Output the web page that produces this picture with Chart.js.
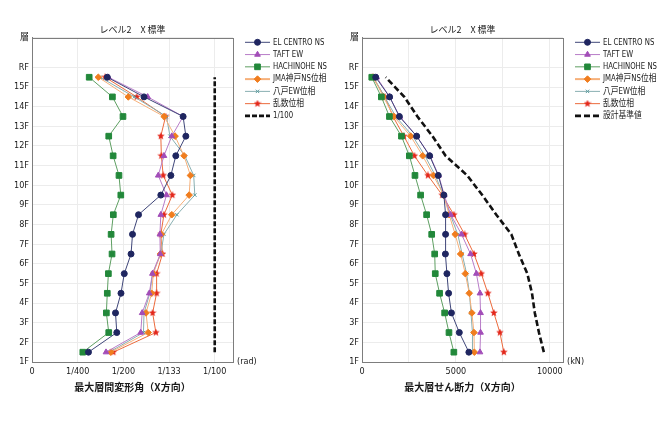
<!DOCTYPE html>
<html>
<head>
<meta charset="utf-8">
<script src="https://cdn.jsdelivr.net/npm/chart.js@4.4.0/dist/chart.umd.min.js"></script>
<style>
  html, body { margin: 0; padding: 0; background: #fff; overflow: hidden; }
  #wrap { position: relative; width: 659px; height: 434px; }
  .panel { position: absolute; top: 0; width: 330px; height: 434px; }
</style>
</head>
<body>
<div id="wrap">
  <div class="panel" style="left:0"><canvas id="driftChart" width="330" height="434"></canvas></div>
  <div class="panel" style="left:330px"><canvas id="shearChart" width="330" height="434"></canvas></div>
</div>
<script>
// 軸ラベル (1F = 0, RF = 15, 上端に「層」)
const floorLabels = ["1F", "2F", "3F", "4F", "5F", "6F", "7F", "8F", "9F", "10F", "11F", "12F", "13F", "14F", "15F", "RF"];
const axisTopLabel = "層";
const stories = ["1F", "2F", "3F", "4F", "5F", "6F", "7F", "8F", "9F", "10F", "11F", "12F", "13F", "14F", "15F"];

const seriesNames = ["EL CENTRO NS", "TAFT EW", "HACHINOHE NS", "JMA神戸NS位相", "八戸EW位相", "乱数位相"];

// 最大層間変形角 (rad)  1F → 15F
const elCentroDrift    = [0.00309, 0.00464, 0.00457, 0.00487, 0.00505, 0.00542, 0.00550, 0.00583, 0.00705, 0.00760, 0.00787, 0.00842, 0.00827, 0.00613, 0.00412];
const taftDrift        = [0.00405, 0.00595, 0.00603, 0.00642, 0.00659, 0.00702, 0.00700, 0.00705, 0.00736, 0.00691, 0.00722, 0.00765, 0.00827, 0.00633, 0.00418];
const hachinoheDrift   = [0.00278, 0.00420, 0.00407, 0.00412, 0.00418, 0.00438, 0.00433, 0.00445, 0.00486, 0.00476, 0.00444, 0.00420, 0.00498, 0.00440, 0.00313];
const kobeDrift        = [0.00431, 0.00636, 0.00624, 0.00655, 0.00664, 0.00703, 0.00708, 0.00765, 0.00860, 0.00867, 0.00832, 0.00783, 0.00723, 0.00527, 0.00363];
const hachinoheEwDrift = [0.00422, 0.00610, 0.00613, 0.00645, 0.00660, 0.00705, 0.00722, 0.00793, 0.00891, 0.00885, 0.00836, 0.00755, 0.00736, 0.00560, 0.00373];
const randomDrift      = [0.00445, 0.00678, 0.00660, 0.00682, 0.00682, 0.00714, 0.00705, 0.00722, 0.00768, 0.00718, 0.00708, 0.00705, 0.00731, 0.00573, 0.00400];
const driftLimit       = [0.01, 0.01, 0.01, 0.01, 0.01, 0.01, 0.01, 0.01, 0.01, 0.01, 0.01, 0.01, 0.01, 0.01, 0.01];
const driftTickValues = [0, 0.0025, 0.005, 0.0075, 0.01];
const driftTickLabels = ["0", "1/400", "1/200", "1/133", "1/100"];

// 最大層せん断力 (kN)  1F → 15F
const elCentroShear    = [5690, 5180, 4760, 4610, 4520, 4440, 4450, 4450, 4360, 4060, 3600, 2910, 1990, 1470, 730];
const taftShear        = [6280, 6310, 6310, 6280, 6090, 5780, 5300, 4720, 4380, 4080, 3620, 2910, 2010, 1470, 780];
const hachinoheShear   = [4890, 4630, 4400, 4130, 3900, 3870, 3710, 3440, 3120, 2820, 2520, 2100, 1460, 1030, 520];
const kobeShear        = [5980, 5960, 5850, 5710, 5500, 5250, 4960, 4640, 4350, 3800, 3230, 2590, 1700, 1140, 610];
const hachinoheEwShear = [5900, 5880, 5800, 5720, 5570, 5330, 5100, 4700, 4330, 3900, 3350, 2700, 1800, 1200, 620];
const randomShear      = [7550, 7340, 7020, 6700, 6350, 5960, 5460, 4890, 4270, 3510, 2790, 2230, 1650, 1220, 570];
const designShear      = [9680, 9420, 9200, 9050, 8800, 8350, 7950, 7150, 6400, 5600, 4450, 3750, 2950, 2250, 1260];
const shearTickValues = [0, 2500, 5000, 7500, 10000];
const shearTickLabels = ["0", "", "5000", "", "10000"];

const tickFont = { family: "'Liberation Sans Narrow', 'DejaVu Sans Condensed', 'Noto Sans CJK JP', sans-serif", size: 9 };
const jpFont = "'Noto Sans CJK JP', sans-serif";
const textColor = "#1a1a1a";
const gridColor = "#ececec";

// 赤い星マーカー
function makeStar(size, color) {
  const c = document.createElement("canvas");
  c.width = size; c.height = size;
  const g = c.getContext("2d");
  const cx = size / 2, cy = size / 2, ro = size / 2, ri = size / 4.6;
  g.beginPath();
  for (let i = 0; i < 10; i++) {
    const r = i % 2 ? ri : ro;
    const a = -Math.PI / 2 + i * Math.PI / 5;
    g.lineTo(cx + r * Math.cos(a), cy + r * Math.sin(a));
  }
  g.closePath();
  g.fillStyle = color;
  g.fill();
  return c;
}
const starMark = makeStar(8, "#e3271b");

// 系列スタイル
const styles = [
  { line: "#3f4679", mark: "#1f2660", pointStyle: "circle", radius: 3 },
  { line: "#b87cc8", mark: "#a24db8", pointStyle: "triangle", radius: 3.3 },
  { line: "#5e9f62", mark: "#22883a", pointStyle: "rect", radius: 4 },
  { line: "#f6b07a", mark: "#f07d1e", pointStyle: "rectRot", radius: 3.3 },
  { line: "#88afb1", mark: "#5c9c9f", pointStyle: "crossRot", radius: 2.4 },
  { line: "#ec6a3c", mark: "#e3271b", pointStyle: starMark, radius: 4 }
];

function points(values) {
  return values.map((v, i) => ({ x: v, y: stories.indexOf(stories[i]) + 0.5 }));
}

function buildDatasets(seriesValues, refValues, refLabel, dash) {
  const ds = seriesValues.map((vals, i) => {
    const s = styles[i];
    return {
      label: seriesNames[i],
      data: points(vals),
      showLine: true,
      borderColor: s.line,
      borderWidth: 1,
      pointStyle: s.pointStyle,
      pointRadius: s.radius,
      pointBackgroundColor: s.mark,
      pointBorderColor: s.mark,
      pointBorderWidth: 1
    };
  });
  ds.push({
    label: refLabel,
    data: points(refValues),
    showLine: true,
    borderColor: "#111",
    borderWidth: 2.6,
    borderDash: dash,
    pointRadius: 0
  });
  return ds;
}

const panelDecor = {
  id: "panelDecor",
  beforeDatasetsDraw(chart) {
    const { ctx, chartArea: a } = chart;
    ctx.save();
    ctx.strokeStyle = "#7d7d7d";
    ctx.lineWidth = 1;
    ctx.strokeRect(Math.round(a.left) + 0.5, Math.round(a.top) + 0.5, Math.round(a.right - a.left), Math.round(a.bottom - a.top));
    ctx.restore();
  },
  afterDraw(chart, args, opts) {
    const { ctx, chartArea: a } = chart;
    ctx.save();
    // 単位
    ctx.font = "9px " + tickFont.family;
    ctx.fillStyle = textColor;
    ctx.textBaseline = "middle";
    ctx.textAlign = "left";
    ctx.fillText(opts.unit, a.right + 4, a.bottom);

    // 凡例
    const x0 = 245, x1 = 270, tx = 273;
    chart.data.datasets.forEach((d, i) => {
      const y = 42.3 + i * 12.27;
      ctx.save();
      ctx.strokeStyle = d.borderColor;
      ctx.lineWidth = d.pointRadius ? (i === 3 ? 2 : 1) : 2.6;
      ctx.setLineDash(d.borderDash || []);
      ctx.beginPath();
      ctx.moveTo(x0, y);
      ctx.lineTo(x1, y);
      ctx.stroke();
      ctx.restore();
      if (d.pointRadius) {
        ctx.fillStyle = d.pointBackgroundColor;
        ctx.strokeStyle = d.pointBorderColor;
        ctx.lineWidth = 1;
        Chart.helpers.drawPoint(ctx, { pointStyle: d.pointStyle, radius: d.pointRadius, rotation: 0, borderWidth: 1 }, (x0 + x1) / 2, y);
      }
      ctx.fillStyle = textColor;
      ctx.font = "9px " + tickFont.family;
      ctx.textAlign = "left";
      ctx.textBaseline = "middle";
      const w = ctx.measureText(d.label).width;
      ctx.fillText(d.label, tx, y, Math.min(w * 0.86, 330 - tx - 3));
    });
    ctx.restore();
  }
};

function yScale() {
  return {
    type: "linear",
    min: 0,
    max: 16.5,
    afterBuildTicks: s => { s.ticks = floorLabels.map((f, i) => ({ value: i })).concat([{ value: 16.5 }]); },
    afterFit: s => { s.width = 32; },
    ticks: {
      autoSkip: false,
      padding: 3,
      color: textColor,
      font: tickFont,
      callback: v => (v === 16.5 ? axisTopLabel : floorLabels[v])
    },
    grid: { color: gridColor, drawTicks: false },
    border: { color: "#7d7d7d" }
  };
}

function xScale(max, tickValues, tickLabels, titleText) {
  return {
    type: "linear",
    min: 0,
    max: max,
    afterBuildTicks: s => { s.ticks = tickValues.map(v => ({ value: v })); },
    afterFit: s => { s.height = 72; },
    ticks: {
      autoSkip: false,
      maxRotation: 0,
      padding: 4,
      color: textColor,
      font: tickFont,
      callback: (v, i) => tickLabels[i]
    },
    grid: { color: gridColor, drawTicks: false },
    border: { color: "#7d7d7d" },
    title: {
      display: true,
      text: titleText,
      color: textColor,
      font: { family: jpFont, size: 10, weight: "bold" },
      padding: { top: 0, bottom: 41 }
    }
  };
}

function makeChart(id, datasets, max, tickValues, tickLabels, titleText, unit) {
  return new Chart(document.getElementById(id).getContext("2d"), {
    type: "scatter",
    data: { datasets: datasets },
    options: {
      responsive: false,
      animation: false,
      layout: { padding: { left: 0, right: 97, top: 24, bottom: 0 } },
      plugins: {
        legend: { display: false },
        tooltip: { enabled: false },
        title: {
          display: true,
          fullSize: false,
          text: "レベル2　X 標準",
          color: textColor,
          font: { family: jpFont, size: 9, weight: "normal", lineHeight: 1.33 },
          padding: { top: 0, bottom: 2 }
        },
        panelDecor: { unit: unit }
      },
      scales: {
        x: xScale(max, tickValues, tickLabels, titleText),
        y: yScale()
      }
    },
    plugins: [panelDecor]
  });
}

makeChart("driftChart",
  buildDatasets([elCentroDrift, taftDrift, hachinoheDrift, kobeDrift, hachinoheEwDrift, randomDrift], driftLimit, "1/100", [5, 2]),
  0.011, driftTickValues, driftTickLabels, "最大層間変形角（X方向）", "(rad)");

makeChart("shearChart",
  buildDatasets([elCentroShear, taftShear, hachinoheShear, kobeShear, hachinoheEwShear, randomShear], designShear, "設計基準値", [6, 3]),
  10700, shearTickValues, shearTickLabels, "最大層せん断力（X方向）", "(kN)");
</script>
</body>
</html>
